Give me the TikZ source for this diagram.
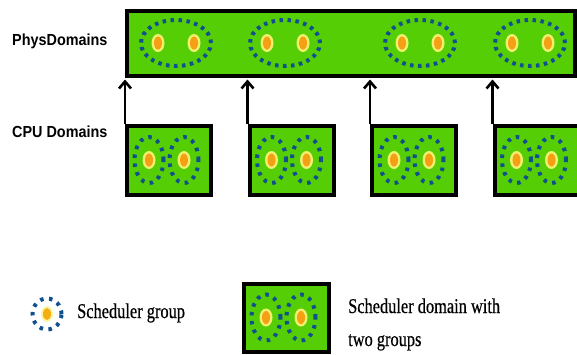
\documentclass[tikz,border=0pt]{standalone}
\usepackage{fontspec}
\setmainfont{Liberation Serif}
\newfontfamily\labelsans{Liberation Sans}
\newfontfamily\legfont[FakeBold=0.6]{Liberation Serif}
\usetikzlibrary{arrows.meta}
\definecolor{domgreen}{RGB}{86,206,6}
\definecolor{grpblue}{RGB}{16,80,140}
\definecolor{cpuorange}{RGB}{245,160,20}
\definecolor{ringyellow}{RGB}{240,240,110}
\tikzset{
  dombox/.style={draw=black, line width=4pt, fill=domgreen, inner sep=0pt},
  grpline/.style={draw=grpblue, line width=4pt, dash pattern=on 3.5pt off 4.5pt},
  cpuline/.style={draw=grpblue, line width=4pt, dash pattern=on 3.5pt off 5.5pt},
  uparrow/.style={line width=2.6pt, -{Straight Barb[length=7pt,width=12pt,line width=2.6pt]}, shorten >=2pt},
  rowlabel/.style={anchor=base west, inner sep=0pt, font=\labelsans\bfseries\fontsize{16}{18}\selectfont},
  legtext/.style={anchor=base west, inner sep=0pt, font=\legfont\fontsize{21}{24}\selectfont},
  cpudot/.pic={
    \fill[ringyellow] (0,0) ellipse [x radius=6.5pt, y radius=9pt];
    \fill[cpuorange] (0,0) ellipse [x radius=4pt, y radius=6.5pt];
  },
  cpugroup/.pic={
    \draw[cpuline] (0,0) ellipse [x radius=14.5pt, y radius=23pt];
    \pic at (0,0) {cpudot};
  },
  physgroup/.pic={
    \draw[grpline] (0,0) ellipse [x radius=35pt, y radius=23pt];
    \pic at (-18,0) {cpudot};
    \pic at (18,0) {cpudot};
  }
}
\begin{document}
\begin{tikzpicture}[x=1pt,y=-1pt]
\useasboundingbox (0,0) rectangle (577,354);
% labels
\node[rowlabel] (lphys) at (12,45) {\scalebox{0.9}[1]{PhysDomains}};
\node[rowlabel] (lcpu) at (12,137) {\scalebox{0.9}[1]{CPU Domains}};
% phys domain bar
\node[dombox, minimum width=448pt, minimum height=65pt] (phys) at (351,43) {};
\foreach \cx in {176,285,420,530} {
  \pic at (\cx,43) {physgroup};
}
% cpu domains
\foreach \i/\cx in {1/169,2/291.5,3/414,4/536.5} {
  \node[dombox, minimum width=84pt, minimum height=69pt] (cpu\i) at (\cx,160) {};
  \pic at (\cx-20,160) {cpugroup};
  \pic at (\cx+15,160) {cpugroup};
  \draw[uparrow] (cpu\i.north west) -- (cpu\i.north west |- phys.south);
}
% legend
\coordinate (lgc) at (47,314);
\draw[cpuline] (lgc) ellipse [x radius=14.5pt, y radius=15.5pt];
\fill[ringyellow!60!white] (lgc) ellipse [x radius=6pt, y radius=8pt];
\fill[cpuorange!85!yellow] (lgc) ellipse [x radius=4pt, y radius=6pt];
\node[legtext] (lgtxt) at (77,318) {\scalebox{0.78}[1]{Scheduler group}};
\node[dombox, minimum width=85pt, minimum height=68pt] (lgbox) at (286,317.5) {};
\pic at (266,317.5) {cpugroup};
\pic at (301,317.5) {cpugroup};
\node[legtext] (lgdom1) at (348,313) {\scalebox{0.78}[1]{Scheduler domain with}};
\node[legtext] (lgdom2) at (348,346) {\scalebox{0.78}[1]{two groups}};
\end{tikzpicture}
\end{document}
